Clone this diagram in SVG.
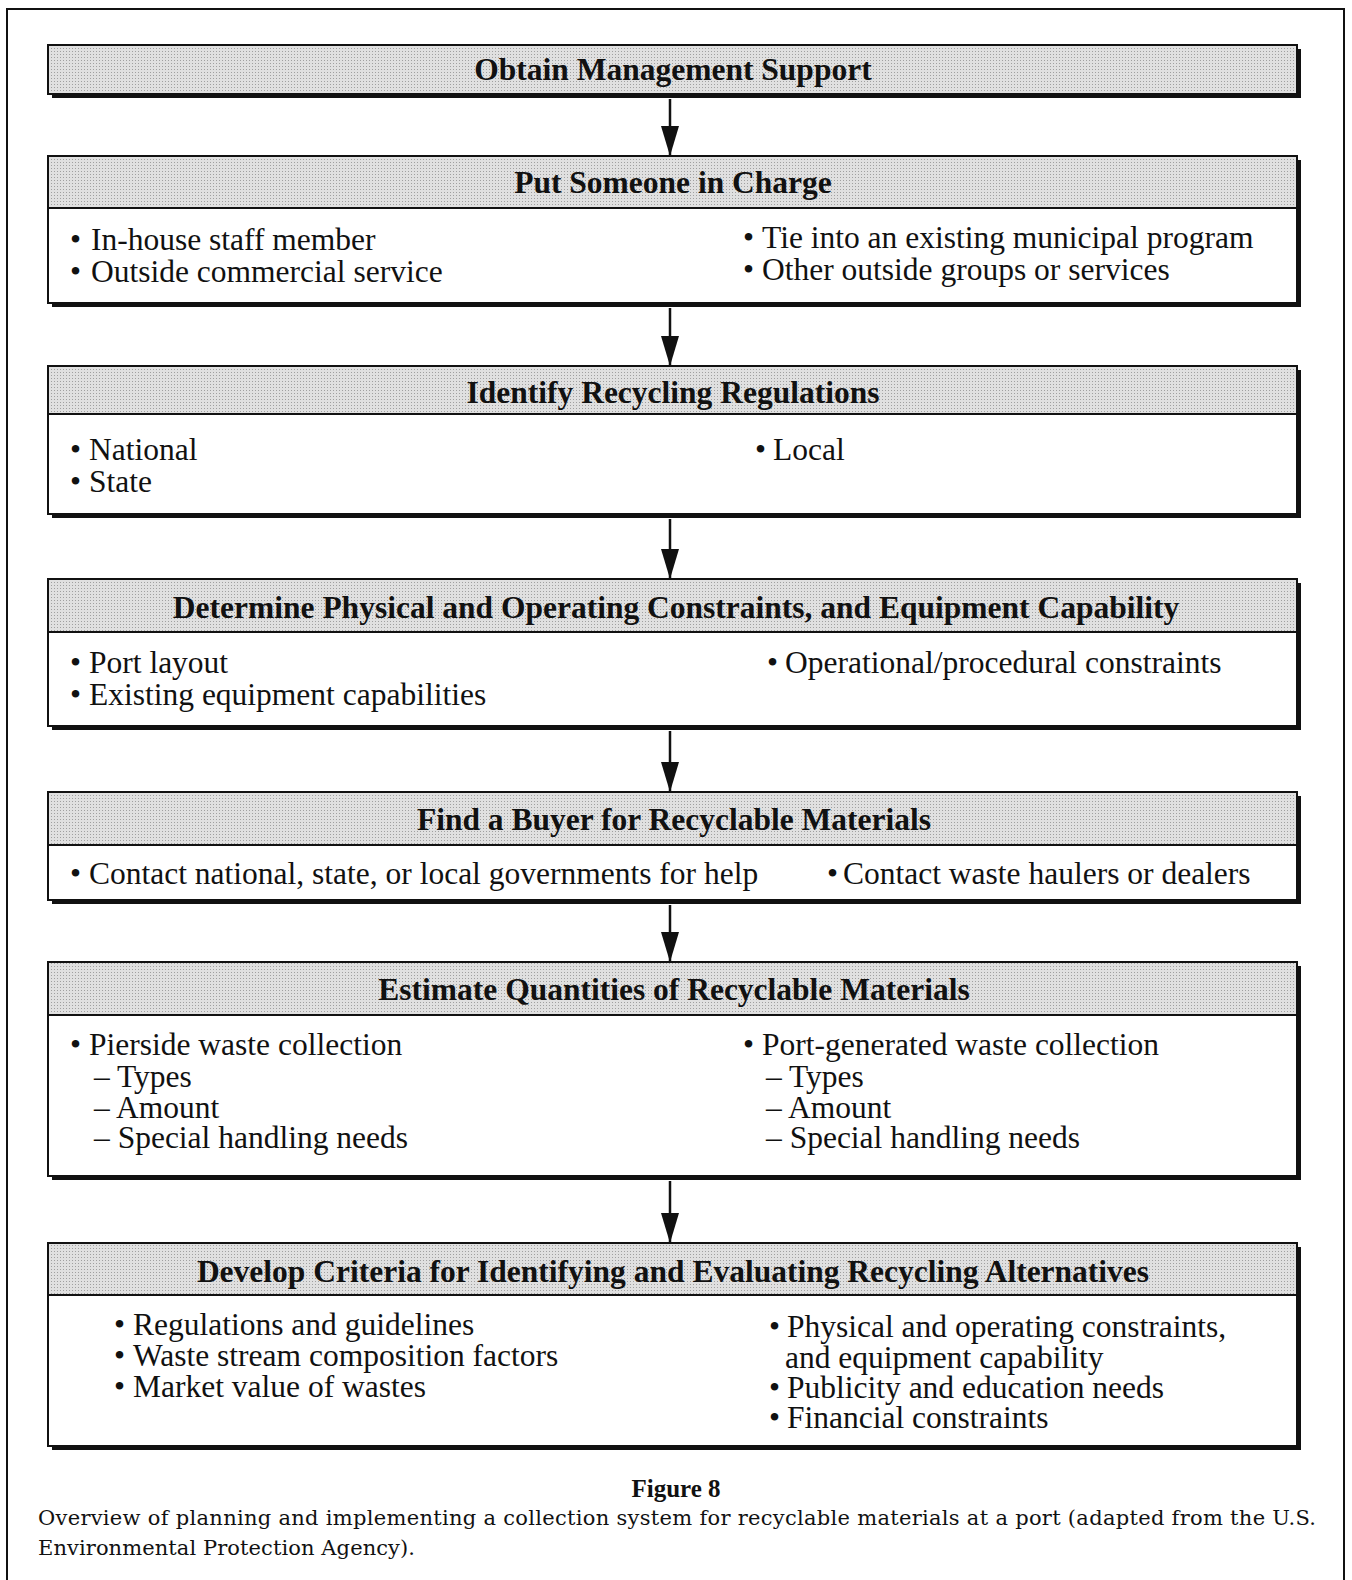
<svg xmlns="http://www.w3.org/2000/svg" width="1352" height="1580" viewBox="0 0 1352 1580">
<defs>
<pattern id="dots" width="3" height="3" patternUnits="userSpaceOnUse">
<rect width="3" height="3" fill="#e0e0e0"/>
<rect width="1" height="1" fill="#a0a0a0"/>
</pattern>
<marker id="arr" markerUnits="userSpaceOnUse" markerWidth="30" markerHeight="18" refX="30" refY="9" orient="auto" viewBox="0 0 30 18">
<path d="M0,0 L30,9 L0,18 z" fill="#111"/>
</marker>
</defs>
<style>
.frame{fill:none;stroke:#111;stroke-width:2}
.shadow{fill:#111}
.box{fill:#fff;stroke:#111;stroke-width:2}
.hdr{fill:url(#dots);stroke:#111;stroke-width:2}
.ht{font-family:"Liberation Serif","Times New Roman",serif;font-weight:bold;font-size:31.5px;fill:#111;text-anchor:middle}
.bt{font-family:"Liberation Serif","Times New Roman",serif;font-size:31.5px;fill:#111}
.cap{font-family:"DejaVu Serif","Liberation Serif",serif;font-size:21px;fill:#111}
.capb{font-family:"Liberation Serif","Times New Roman",serif;font-size:25px;font-weight:bold;fill:#111;text-anchor:middle}
.conn{stroke:#111;stroke-width:2.5;fill:none;marker-end:url(#arr)}
</style>
<rect width="1352" height="1580" fill="#fff"/>
<path class="frame" d="M7,1580 V9 H1344 V1580"/>

<g id="connectors">
<line class="conn" x1="670" y1="99" x2="670" y2="156"/>
<line class="conn" x1="670" y1="308" x2="670" y2="366"/>
<line class="conn" x1="670" y1="519" x2="670" y2="579"/>
<line class="conn" x1="670" y1="731" x2="670" y2="792"/>
<line class="conn" x1="670" y1="905" x2="670" y2="962"/>
<line class="conn" x1="670" y1="1181" x2="670" y2="1243"/>
</g>

<g id="n1">
<rect class="shadow" x="52" y="49" width="1249" height="49"/>
<rect class="hdr" x="48" y="45" width="1249" height="49"/>
<text class="ht" x="673" y="80">Obtain Management Support</text>
</g>

<g id="n2">
<rect class="shadow" x="52" y="160" width="1249" height="147"/>
<rect class="box" x="48" y="156" width="1249" height="147"/>
<rect class="hdr" x="48" y="156" width="1249" height="52"/>
<text class="ht" x="673" y="193">Put Someone in Charge</text>
<text class="bt" y="250"><tspan x="70">•</tspan><tspan x="91">In-house staff member</tspan></text>
<text class="bt" y="282"><tspan x="70">•</tspan><tspan x="91">Outside commercial service</tspan></text>
<text class="bt" y="248"><tspan x="743">•</tspan><tspan x="762">Tie into an existing municipal program</tspan></text>
<text class="bt" y="280"><tspan x="743">•</tspan><tspan x="762">Other outside groups or services</tspan></text>
</g>

<g id="n3">
<rect class="shadow" x="52" y="370" width="1249" height="148"/>
<rect class="box" x="48" y="366" width="1249" height="148"/>
<rect class="hdr" x="48" y="366" width="1249" height="48"/>
<text class="ht" x="673" y="403">Identify Recycling Regulations</text>
<text class="bt" y="460"><tspan x="70">•</tspan><tspan x="89">National</tspan></text>
<text class="bt" y="492"><tspan x="70">•</tspan><tspan x="89">State</tspan></text>
<text class="bt" y="460"><tspan x="755">•</tspan><tspan x="773">Local</tspan></text>
</g>

<g id="n4">
<rect class="shadow" x="52" y="583" width="1249" height="147"/>
<rect class="box" x="48" y="579" width="1249" height="147"/>
<rect class="hdr" x="48" y="579" width="1249" height="53"/>
<text class="ht" x="676" y="618">Determine Physical and Operating Constraints, and Equipment Capability</text>
<text class="bt" y="673"><tspan x="70">•</tspan><tspan x="89">Port layout</tspan></text>
<text class="bt" y="705"><tspan x="70">•</tspan><tspan x="89">Existing equipment capabilities</tspan></text>
<text class="bt" y="673"><tspan x="767">•</tspan><tspan x="785">Operational/procedural constraints</tspan></text>
</g>

<g id="n5">
<rect class="shadow" x="52" y="796" width="1249" height="108"/>
<rect class="box" x="48" y="792" width="1249" height="108"/>
<rect class="hdr" x="48" y="792" width="1249" height="53"/>
<text class="ht" x="674" y="830">Find a Buyer for Recyclable Materials</text>
<text class="bt" y="884"><tspan x="70">•</tspan><tspan x="89">Contact national, state, or local governments for help</tspan></text>
<text class="bt" y="884"><tspan x="827">•</tspan><tspan x="843">Contact waste haulers or dealers</tspan></text>
</g>

<g id="n6">
<rect class="shadow" x="52" y="966" width="1249" height="214"/>
<rect class="box" x="48" y="962" width="1249" height="214"/>
<rect class="hdr" x="48" y="962" width="1249" height="53"/>
<text class="ht" x="674" y="1000">Estimate Quantities of Recyclable Materials</text>
<text class="bt" y="1055"><tspan x="70">•</tspan><tspan x="89">Pierside waste collection</tspan></text>
<text class="bt" x="94" y="1087">– Types</text>
<text class="bt" x="94" y="1118">– Amount</text>
<text class="bt" x="94" y="1148">– Special handling needs</text>
<text class="bt" y="1055"><tspan x="743">•</tspan><tspan x="762">Port-generated waste collection</tspan></text>
<text class="bt" x="766" y="1087">– Types</text>
<text class="bt" x="766" y="1118">– Amount</text>
<text class="bt" x="766" y="1148">– Special handling needs</text>
</g>

<g id="n7">
<rect class="shadow" x="52" y="1247" width="1249" height="203"/>
<rect class="box" x="48" y="1243" width="1249" height="203"/>
<rect class="hdr" x="48" y="1243" width="1249" height="52"/>
<text class="ht" x="673" y="1282">Develop Criteria for Identifying and Evaluating Recycling Alternatives</text>
<text class="bt" y="1335"><tspan x="114">•</tspan><tspan x="133">Regulations and guidelines</tspan></text>
<text class="bt" y="1366"><tspan x="114">•</tspan><tspan x="133">Waste stream composition factors</tspan></text>
<text class="bt" y="1397"><tspan x="114">•</tspan><tspan x="133">Market value of wastes</tspan></text>
<text class="bt" y="1337"><tspan x="769">•</tspan><tspan x="787">Physical and operating constraints,</tspan></text>
<text class="bt" x="785" y="1368">and equipment capability</text>
<text class="bt" y="1398"><tspan x="769">•</tspan><tspan x="787">Publicity and education needs</tspan></text>
<text class="bt" y="1428"><tspan x="769">•</tspan><tspan x="787">Financial constraints</tspan></text>
</g>

<g id="caption">
<text class="capb" x="676" y="1497">Figure 8</text>
<text class="cap" x="38" y="1525" textLength="1278" lengthAdjust="spacing">Overview of planning and implementing a collection system for recyclable materials at a port (adapted from the U.S.</text>
<text class="cap" x="38" y="1555" textLength="377" lengthAdjust="spacing">Environmental Protection Agency).</text>
</g>
</svg>
